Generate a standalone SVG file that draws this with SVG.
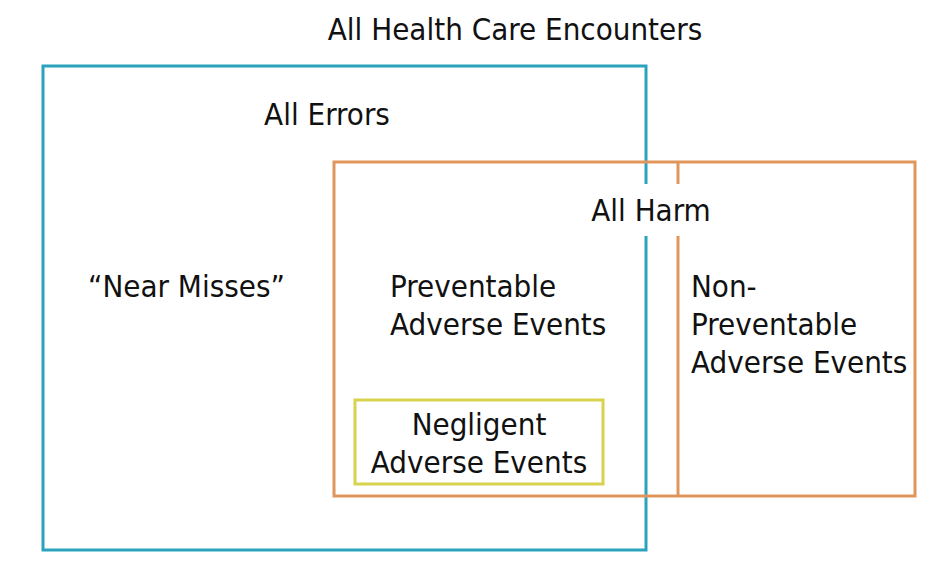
<svg xmlns="http://www.w3.org/2000/svg" width="946" height="572" viewBox="0 0 946 572">
<style>
text{font-family:"DejaVu Sans Condensed","DejaVu Sans",sans-serif;font-stretch:condensed;font-size:31px;fill:#111}
.box{fill:none;stroke-width:3}
.blue{stroke:#2ba3bd}
.orange{stroke:#e0965a}
.yellow{stroke:#d8d24e}
</style>
<rect width="946" height="572" fill="#fff"/>
<g id="title"><text x="515" y="40" text-anchor="middle" font-size="32">All Health Care Encounters</text></g>
<g id="connectors"></g>
<g id="errors">
<rect class="box blue" x="43" y="66" width="603" height="484"/>
<text x="327" y="125" text-anchor="middle">All Errors</text>
</g>
<g id="harm">
<rect class="box orange" x="334" y="162" width="581" height="334"/>
<line class="orange" x1="678" y1="162" x2="678" y2="496" stroke-width="3"/>
<rect x="585" y="184" width="130" height="52" fill="#fff"/>
<text x="651" y="221" text-anchor="middle">All Harm</text>
</g>
<g id="near-misses"><text x="88" y="297">“Near Misses”</text></g>
<g id="preventable">
<text x="390" y="297">Preventable</text>
<text x="390" y="335">Adverse Events</text>
</g>
<g id="non-preventable">
<text x="691" y="297">Non-</text>
<text x="691" y="335">Preventable</text>
<text x="691" y="373">Adverse Events</text>
</g>
<g id="negligent">
<rect class="box yellow" x="355" y="400" width="248" height="84"/>
<text x="479" y="435" text-anchor="middle">Negligent</text>
<text x="479" y="473" text-anchor="middle">Adverse Events</text>
</g>
</svg>
